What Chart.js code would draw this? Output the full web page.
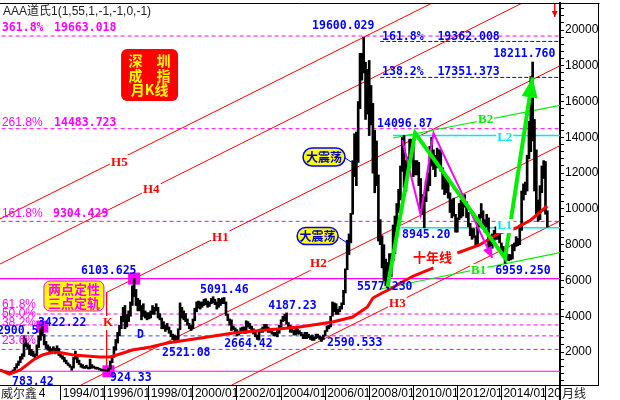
<!DOCTYPE html>
<html lang="zh">
<head>
<meta charset="utf-8">
<title>深圳成指月K线</title>
<script src="https://cdn.jsdelivr.net/npm/chart.js"></script>
<style>
  html, body { margin: 0; padding: 0; background: #ffffff; }
  #wrap { width: 620px; height: 400px; }
  canvas { display: block; }
</style>
</head>
<body>
<div id="wrap"><canvas id="chart" width="620" height="400"></canvas></div>
<script>
// ---------------- DATA ----------------
// month index: 0 = 1991/01, 12 = 1992/01 ...
const firstBarMonth = 3; // first monthly bar = 1991/04

// monthly highs 1991/04 .. 2016/02
const monthHigh = [
  1020,990,960,940,910,880,900,1000,1150,                                   // 1991 Apr-Dec
  1350,1500,1750,1900,2900.5,2750,2500,2400,2150,2050,1900,2400,            // 1992
  2900,3300,3422.22,3000,2600,2400,2300,2200,2300,2200,2350,2200,           // 1993
  2000,1800,1700,1550,1400,1300,1200,1700,2050,1800,1550,1350,              // 1994
  1300,1200,1260,1160,1600,1300,1220,1160,1150,1100,1060,1030,              // 1995
  1030,1020,1100,1500,1800,2300,2700,3100,3500,4000,4500,4600,              // 1996
  4100,4300,4800,5700,6103.625,5500,5000,4900,4600,4700,4300,4200,          // 1997
  4200,4300,4600,4500,4700,4500,4150,3900,3700,3500,3600,3400,              // 1998
  3200,3000,2950,2900,3300,4750,4500,4300,4150,3850,3600,3500,              // 1999
  3850,4450,4800,4850,4800,4800,4950,4980,4850,4800,5000,5091.46,           // 2000
  4950,4800,5000,4950,5020,5050,4800,4100,3850,3800,3450,3350,              // 2001
  3250,3150,3350,3400,3400,3750,3700,3600,3450,3300,3100,2950,              // 2002
  3250,3300,3400,3550,3550,3400,3300,3200,3100,3100,3200,3500,              // 2003
  3800,4000,4100,4187.23,3650,3500,3300,3200,3350,3300,3200,3100,           // 2004
  3000,3100,3100,3000,2900,2950,2850,3000,3000,2900,2850,2950,              // 2005
  3200,3450,3500,4000,4800,4750,4700,4400,4550,4750,5450,6650,              // 2006
  8250,8600,9750,12700,14200,14300,16000,18700,18700,19600.029,18200,17800, // 2007
  18300,16900,15900,14400,13800,11900,9400,8500,8000,7200,7000,7500,        // 2008
  7500,9100,9600,10300,11100,12400,14000,14096.87,12700,12900,13900,13900,  // 2009
  13900,12700,12700,12600,11700,10800,10700,11600,12000,13500,14000,13300,  // 2010
  13000,13400,13300,13300,12300,11800,11700,11500,10900,10500,10600,9700,   // 2011
  9500,10300,10500,10700,10800,10400,9800,9200,8900,8900,8500,9300,         // 2012
  9700,10300,9900,9400,9700,9500,8300,8600,8800,9000,8900,8700,             // 2013
  8100,7900,7400,7500,7450,7450,8000,8100,8450,8350,9100,11000,             // 2014
  11400,11500,13000,14900,17400,18211.76,15000,13300,10500,11300,12400,12700, // 2015
  12650,9900                                                                // 2016 Jan-Feb
];
// monthly lows 1991/04 .. 2016/02
const monthLow = [
  960,930,900,870,840,800,783.42,850,950,
  1100,1250,1400,1600,1750,2300,2150,1850,1800,1750,1600,1800,
  2250,2650,2900,2400,2200,2100,1950,1900,2000,1900,1950,1800,
  1700,1600,1450,1350,1250,1150,980,1100,1600,1400,1300,1150,
  1100,1080,1100,1050,1060,1100,1100,1050,1040,1000,960,950,
  940,935,924.33,1050,1400,1700,2100,2500,2900,3300,3700,3300,
  3400,3700,4000,4600,5100,4600,4300,4300,3800,4000,3900,3800,
  3850,3900,4100,4100,4300,3900,3800,3300,3300,3150,3250,3050,
  2850,2700,2521.08,2650,2600,3250,3900,3800,3700,3500,3300,3200,
  3300,3750,4250,4450,4400,4500,4600,4650,4500,4550,4700,4750,
  4650,4400,4500,4600,4700,4700,4050,3750,3500,3200,3250,3100,
  2900,2950,3050,3150,3050,3050,3400,3300,3150,3000,2850,2700,
  2664.42,3100,3100,3250,3300,3100,3100,3000,2900,2900,2850,3050,
  3350,3700,3750,3550,3400,3100,3100,2950,2950,3000,3000,2900,
  2750,2750,2750,2800,2700,2650,2650,2750,2800,2700,2590.533,2700,
  2900,3150,3300,3400,4000,4250,4100,4100,4250,4400,4650,5300,
  6600,7450,8100,9700,11800,11300,12600,15600,17200,17600,15000,15300,
  14100,14700,12000,10900,11300,8200,8000,6700,6000,5700,5577.23,6100,
  6200,7100,7500,8700,9800,10500,12100,11200,11000,11800,12500,12800,
  11800,11900,11900,11300,10000,9700,8945.2,10400,11000,11300,12400,12200,
  11800,12300,12400,12100,11100,10800,10900,10600,9800,9500,9600,8700,
  8700,9400,9500,9600,10100,9500,9000,8500,8300,8400,7900,7950,
  9000,9500,8900,8700,9000,7600,7700,7800,8200,8300,8300,8100,
  7500,7300,6959.25,7150,7100,7150,7200,7650,7900,7950,8000,8800,
  10500,10800,11000,12800,13200,13800,11000,9700,9300,9400,10900,11700,
  9700,8980
];

// 10-year moving average ("十年线") (null = gap)
const maMonths = [3,8,14,21,26,32,37,43,57,63,70,75,85,94,105,116,130,148,166,184,195,203,206,211,216,221,228,239,245,252,264,275,284,292,301];
const maValues = [1000,760,995,1554,1834,2001,1945,1834,1722,1722,1945,2113,2281,2504,2672,2840,3063,3231,3399,3678,3957,4516,5020,5299,5550,5858,6250,6700,null,7535,7982,8653,8933,9380,10163];

// x-axis ticks
const tickMonths = [3,36,60,84,108,132,156,180,204,228,252,276,300];
const tickLabels = ['1991/04','1994/01','1996/01','1998/01','2000/01','2002/01','2004/01','2006/01','2008/01','2010/01','2012/01','2014/01','2016/01'];
// y-axis ticks
const yLabelStep = 2000;
const yTickStep = 400;

// key turning points (month, value)
const keyMonths = [26, 76, 62];
const keyValues = [3422.22, 6103.625, 924.33];

// golden-section levels 924.33 -> 6103.625
const fibDashed = [19663.018, 14483.723, 9304.429, 4125.18, 3513.98, 2146.60];
const fibD = 2902.82;
const fibSolid = [6103.625, 924.33];
// golden-section levels 5577.23 -> 14096.87
const fibBlue = [19362.008, 17351.373];

// channel lines H5..H3 (month, value) endpoints
const lineH5 = [[0, 9289], [240, 21600]];
const lineH4 = [[0, 6768], [290, 21645]];
const lineH1 = [[61, 5334], [308, 18005]];
const lineH2 = [[47, 155], [308, 13545]];
const lineH3 = [[129, 147], [308, 9330]];
const lineK  = [[61, 5334], [61, 924.33]];
const lineL2 = [[217, 14096.87], [308, 14096.87]];
const lineL1 = [[221, 8945.2], [308, 8945.2]];
const lineB2 = [[217, 13964], [308, 15785]];
const lineB1 = [[210, 5523], [308, 7560]];
const zigGreen = [[214, 5650], [229, 14240], [278, 7250], [293, 17350]];
const zigMagenta = [[222, 13850], [232, 9660], [239, 14240], [271, 7260]];
const topArrow = [[305, 21600], [305, 20730]];

// ---------------- CHART ----------------
const X_MIN = 2.94, X_MAX = 307.9, Y_MIN = 157, Y_MAX = 21510;
const RIGHT_AXIS_W = 39, BOTTOM_AXIS_H = 15;

const MAG = '#ff00ff', BLUE = '#0000ff', RED = '#ff0000', GREEN = '#00ee00', CYAN = '#00e8f0';

function seg(pts, color, width, dash) {
  return { type: 'line', data: pts.map(p => ({ x: p[0], y: p[1] })), borderColor: color,
           borderWidth: width, borderDash: dash || [], pointRadius: 0, fill: false, tension: 0 };
}
function hline(v, x0, x1, color, width, dash) { return seg([[x0, v], [x1, v]], color, width, dash); }

const datasets = [];
// top-most first
datasets.push(seg(zigGreen, GREEN, 4));
datasets.push(seg(zigMagenta, MAG, 2));
datasets.push({ type: 'line', data: maMonths.map((m, i) => ({ x: m, y: maValues[i] })), borderColor: RED,
                borderWidth: 3, pointRadius: 0, spanGaps: false, tension: 0 });
datasets.push({ type: 'bar', data: monthHigh.map((h, i) => ({ x: firstBarMonth + i, y: [monthLow[i], h] })),
                backgroundColor: '#000', barThickness: 2, borderWidth: 0 });
datasets.push({ type: 'scatter', data: keyMonths.map((m, i) => ({ x: m, y: keyValues[i] })),
                pointStyle: 'rect', pointRadius: 8.5, backgroundColor: MAG, borderWidth: 0, showLine: false });
datasets.push(seg(lineB2, GREEN, 1.2));
datasets.push(seg(lineB1, GREEN, 1.2));
datasets.push(seg(lineL2, CYAN, 1.5));
datasets.push(seg(lineL1, CYAN, 1.5));
fibBlue.forEach(v => datasets.push(hline(v, 210, 308, BLUE, 1, [4, 2])));
datasets.push(seg(topArrow, RED, 1));
[lineH5, lineH4, lineH1, lineH2, lineH3, lineK].forEach(l => datasets.push(seg(l, RED, 1)));
fibDashed.forEach(v => datasets.push(hline(v, 0, 308, MAG, 1, [4, 3])));
datasets.push(hline(fibD, 0, 180, '#4444ee', 1, [4, 3]));
datasets.push(hline(fibD, 180, 308, MAG, 1, [4, 3]));
fibSolid.forEach(v => datasets.push(hline(v, 0, 308, MAG, 1.2)));

// ---------------- ANNOTATIONS ----------------
const F_NUM = 'bold 11.5px "DejaVu Sans Mono", "Liberation Mono", monospace';
const F_PCT = '12px "Liberation Sans", Arial, sans-serif';
const F_H = 'bold 13px "Liberation Serif", "DejaVu Serif", serif';
const F_CJK = 'bold 13px "Noto Sans CJK SC", sans-serif';

// [text, month, value, font, colour, whiteBackground]
const notes = [
  ['361.8%', 4.0, 20113, F_NUM, MAG], ['19663.018', 32.4, 20113, F_NUM, MAG],
  ['261.8%', 4.0, 14802, F_PCT, MAG], ['14483.723', 32.4, 14802, F_NUM, MAG],
  ['161.8%', 4.0, 9715, F_PCT, MAG], ['9304.429', 31.8, 9715, F_NUM, MAG],
  ['61.8%', 4.0, 4629, F_PCT, MAG], ['50.0%', 4.0, 4126, F_PCT, MAG],
  ['38.2%', 4.0, 3622, F_PCT, MAG], ['23.6%', 4.0, 2616, F_PCT, MAG],
  ['2900.5', 1.3, 3175, F_NUM, BLUE],
  ['19600.029', 172.9, 20224, F_NUM, BLUE],
  ['161.8%  19362.008', 211, 19610, F_NUM, BLUE],
  ['138.2%  17351.373', 211, 17653, F_NUM, BLUE],
  ['18211.760', 271.5, 18660, F_NUM, BLUE],
  ['14096.87', 208.3, 14746, F_NUM, BLUE],
  ['8945.20', 221.9, 8542, F_NUM, BLUE],
  ['5577.230', 197.4, 5635, F_NUM, BLUE],
  ['6959.250', 272.6, 6529, F_NUM, BLUE],
  ['2590.533', 181, 2504, F_NUM, BLUE],
  ['4187.23', 149, 4573, F_NUM, BLUE],
  ['2664.42', 125, 2448, F_NUM, BLUE],
  ['5091.46', 111.9, 5467, F_NUM, BLUE],
  ['2521.08', 91.2, 1945, F_NUM, BLUE],
  ['6103.625', 47.1, 6529, F_NUM, BLUE],
  ['924.33', 62.9, 548, F_NUM, BLUE],
  ['783.42', 9.5, 324, F_NUM, BLUE],
  ['3422.22', 23.6, 3622, F_NUM, BLUE],
  ['D', 77.6, 2951, F_NUM, BLUE],
  ['K', 59.0, 3622, F_H, RED, true],
  ['H5', 63.4, 12611, F_H, RED, true],
  ['H4', 80.8, 11102, F_H, RED, true],
  ['H1', 118.4, 8418, F_H, RED, true],
  ['H2', 171.8, 6964, F_H, RED, true],
  ['H3', 214.8, 4684, F_H, RED, true],
  ['十年线', 227.9, 7300, F_CJK, RED],
  ['B2', 263.3, 14965, F_H, GREEN, true],
  ['B1', 259.5, 6529, F_H, GREEN, true],
  ['L2', 273.7, 13963, F_H, CYAN, true],
  ['L1', 273.7, 9045, F_H, CYAN, true]
];

const annot = {
  id: 'annot',
  afterDatasetsDraw(chart) {
    const { ctx, chartArea: a, scales } = chart;
    const X = m => scales.x.getPixelForValue(m), Y = v => scales.y.getPixelForValue(v);
    ctx.save();

    function rr(x, y, w, h, r) {
      ctx.beginPath();
      ctx.moveTo(x + r, y);
      ctx.arcTo(x + w, y, x + w, y + h, r);
      ctx.arcTo(x + w, y + h, x, y + h, r);
      ctx.arcTo(x, y + h, x, y, r);
      ctx.arcTo(x, y, x + w, y, r);
      ctx.closePath();
    }
    function head(pts, len, half, color) {
      const n = pts.length;
      const x0 = X(pts[n - 2][0]), y0 = Y(pts[n - 2][1]), x1 = X(pts[n - 1][0]), y1 = Y(pts[n - 1][1]);
      const ang = Math.atan2(y1 - y0, x1 - x0), c = Math.cos(ang), s = Math.sin(ang);
      ctx.beginPath();
      ctx.moveTo(x1, y1);
      ctx.lineTo(x1 - len * c + half * s, y1 - len * s - half * c);
      ctx.lineTo(x1 - len * c - half * s, y1 - len * s + half * c);
      ctx.closePath();
      ctx.fillStyle = color;
      ctx.fill();
    }

    // frame
    const R = a.right + RIGHT_AXIS_W;
    ctx.strokeStyle = '#000';
    ctx.lineWidth = 1;
    ctx.beginPath();
    ctx.moveTo(a.left, a.top + 0.5); ctx.lineTo(R + 0.5, a.top + 0.5);
    ctx.moveTo(R - 0.5, a.top); ctx.lineTo(R - 0.5, a.bottom + 1);
    ctx.moveTo(a.right, a.bottom + 0.5); ctx.lineTo(R, a.bottom + 0.5);
    ctx.stroke();
    ctx.lineWidth = 2;
    ctx.beginPath(); ctx.moveTo(a.right, a.bottom); ctx.lineTo(a.right, chart.height); ctx.stroke();

    // arrow heads
    head(zigGreen, 20, 8, GREEN);
    head(zigMagenta, 11, 5, MAG);
    head(topArrow, 6, 3, RED);

    // title
    ctx.textBaseline = 'middle';
    ctx.textAlign = 'left';
    ctx.font = '12px "Liberation Sans", "Noto Sans CJK SC", sans-serif';
    ctx.fillStyle = '#222';
    ctx.fillText('AAA道氏1(1,55,1,-1,-1,0,-1)', a.left + 3, a.top + 9);

    // text notes
    notes.forEach(n => {
      const [t, m, v, font, color, bg] = n;
      ctx.font = font;
      const px = X(m), py = Y(v);
      if (bg) {
        const w = ctx.measureText(t).width;
        ctx.fillStyle = '#fff';
        ctx.fillRect(px - 1, py - 7, w + 2, 14);
      }
      ctx.fillStyle = color;
      ctx.fillText(t, px, py);
    });

    // red title box
    {
      const cx = X(84.4), cy = Y(17486), w = 57, h = 52;
      rr(cx - w / 2, cy - h / 2, w, h, 6);
      ctx.fillStyle = '#ff0000'; ctx.fill();
      ctx.fillStyle = '#ffff00';
      ctx.font = 'bold 14px "Noto Sans CJK SC", sans-serif';
      ctx.textAlign = 'center';
      ctx.fillText('深\u3000圳', cx, cy - h / 2 + 11.5);
      ctx.fillText('成\u3000指', cx, cy - h / 2 + 26.5);
      ctx.fillText('月K线', cx, cy - h / 2 + 41);
    }
    // yellow box 两点定性
    {
      const cx = X(43.2), cy = Y(5132), w = 60, h = 30;
      rr(cx - w / 2, cy - h / 2, w, h, 6);
      ctx.fillStyle = '#ffff00'; ctx.fill();
      ctx.lineWidth = 1; ctx.strokeStyle = MAG; ctx.stroke();
      ctx.fillStyle = MAG;
      ctx.font = F_CJK;
      ctx.textAlign = 'center';
      ctx.fillText('两点定性', cx, cy - 7);
      ctx.fillText('三点定轨', cx, cy + 7);
    }
    // 大震荡 pills
    [[179.4, 12902, 42, 18, 195, 12570], [175.9, 8486, 41, 17, 192, 8100]].forEach(p => {
      const cx = X(p[0]), cy = Y(p[1]), w = p[2], h = p[3];
      ctx.strokeStyle = '#0000ff'; ctx.lineWidth = 1;
      ctx.beginPath(); ctx.moveTo(cx + w / 2, cy + 1); ctx.lineTo(X(p[4]), Y(p[5])); ctx.stroke();
      rr(cx - w / 2, cy - h / 2, w, h, h / 2);
      ctx.fillStyle = '#ffff00'; ctx.fill();
      ctx.lineWidth = 1.5; ctx.stroke();
      ctx.fillStyle = '#0000cc';
      ctx.font = 'bold 12px "Noto Sans CJK SC", sans-serif';
      ctx.textAlign = 'center';
      ctx.fillText('大震荡', cx, cy + 0.5);
    });

    // bottom corner captions
    ctx.textAlign = 'left';
    ctx.fillStyle = '#fff';
    ctx.fillRect(0, a.bottom + 1, a.left + 39, chart.height - a.bottom - 1);
    ctx.fillRect(a.right + 1, a.bottom + 1, chart.width - a.right - 1, chart.height - a.bottom - 1);
    ctx.fillStyle = '#222';
    ctx.font = '12px "Noto Sans CJK SC", sans-serif';
    const by = (a.bottom + chart.height) / 2 + 0.5;
    ctx.fillText('威尔鑫', a.left + 1, by);
    ctx.fillText('月线', a.right + 2, by);
    ctx.restore();
  }
};

Chart.defaults.font.family = '"Liberation Sans", Arial, sans-serif';
Chart.defaults.color = '#000';

new Chart(document.getElementById('chart'), {
  type: 'line',
  data: { datasets },
  options: {
    responsive: false,
    animation: false,
    events: [],
    layout: { autoPadding: false, padding: { left: 0, top: 3, right: 620 - 560 - RIGHT_AXIS_W, bottom: 0 } },
    plugins: { legend: { display: false }, tooltip: { enabled: false } },
    elements: { point: { radius: 0 }, line: { tension: 0 } },
    scales: {
      x: {
        type: 'linear', min: X_MIN, max: X_MAX, offset: false,
        afterBuildTicks: s => { s.ticks = tickMonths.map(v => ({ value: v })); },
        afterFit: s => { s.height = BOTTOM_AXIS_H; s.paddingLeft = 0; s.paddingRight = 0; },
        ticks: { autoSkip: false, maxRotation: 0, minRotation: 0, align: 'start', labelOffset: 2, padding: -14,
                 color: '#000', font: { size: 12 }, callback: (v, i) => tickLabels[i] },
        grid: { drawOnChartArea: false, tickLength: 15, color: '#000', offset: false },
        border: { display: true, color: '#000', width: 1 }
      },
      y: {
        type: 'linear', position: 'right', min: Y_MIN, max: Y_MAX,
        afterBuildTicks: s => {
          const t = [];
          for (let v = yTickStep; v < Y_MAX; v += yTickStep) t.push({ value: v });
          s.ticks = t;
        },
        afterFit: s => { s.width = RIGHT_AXIS_W; s.paddingTop = 0; s.paddingBottom = 0; },
        ticks: { autoSkip: false, padding: 1, color: '#000', font: { size: 12 },
                 callback: v => (v % yLabelStep === 0 ? String(v) : '') },
        grid: { drawOnChartArea: false, tickLength: 4, color: '#000' },
        border: { display: true, color: '#000', width: 2 }
      }
    }
  },
  plugins: [annot]
});
</script>
</body>
</html>
